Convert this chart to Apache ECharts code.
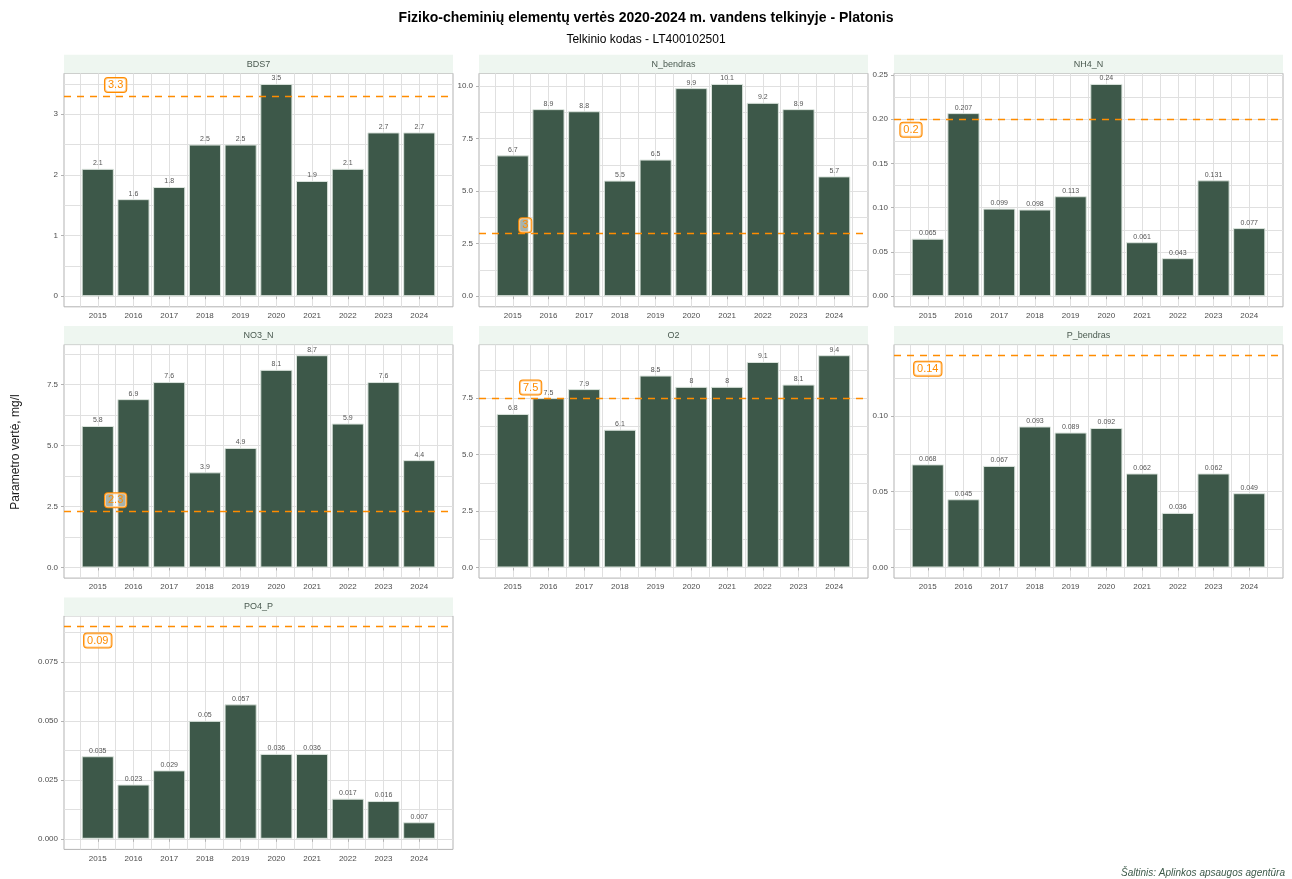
<!DOCTYPE html>
<html>
<head>
<meta charset="utf-8">
<title>Fiziko-cheminių elementų vertės - Platonis</title>
<script src="https://cdn.jsdelivr.net/npm/echarts@6/dist/echarts.min.js"></script>
<style>
  html, body { margin: 0; padding: 0; background: #fff; }
  #chart { width: 1292px; height: 879px; }
</style>
</head>
<body>
<div id="chart"></div>
<script>
const years = [2015, 2016, 2017, 2018, 2019, 2020, 2021, 2022, 2023, 2024]
const params = ['BDS7', 'N_bendras', 'NH4_N', 'NO3_N', 'O2', 'P_bendras', 'PO4_P']

const bds7 = [2.1, 1.6, 1.8, 2.5, 2.5, 3.5, 1.9, 2.1, 2.7, 2.7]
const nBendras = [6.7, 8.9, 8.8, 5.5, 6.5, 9.9, 10.1, 9.2, 8.9, 5.7]
const nh4N = [0.065, 0.207, 0.099, 0.098, 0.113, 0.24, 0.061, 0.043, 0.131, 0.077]
const no3N = [5.8, 6.9, 7.6, 3.9, 4.9, 8.1, 8.7, 5.9, 7.6, 4.4]
const o2 = [6.8, 7.5, 7.9, 6.1, 8.5, 8, 8, 9.1, 8.1, 9.4]
const pBendras = [0.068, 0.045, 0.067, 0.093, 0.089, 0.092, 0.062, 0.036, 0.062, 0.049]
const po4P = [0.035, 0.023, 0.029, 0.05, 0.057, 0.036, 0.036, 0.017, 0.016, 0.007]
const values = [bds7, nBendras, nh4N, no3N, o2, pBendras, po4P]

// limit values (orange dashed lines)
const thresholds = [3.3, 3, 0.2, 2.3, 7.5, 0.14, 0.09]

// y tick labels per panel
const yTicks = [
  [0, 1, 2, 3],
  [0, 2.5, 5, 7.5, 10],
  [0, 0.05, 0.1, 0.15, 0.2, 0.25],
  [0, 2.5, 5, 7.5],
  [0, 2.5, 5, 7.5],
  [0, 0.05, 0.1],
  [0, 0.025, 0.05, 0.075]
]
const yDecimals = [0, 1, 2, 1, 1, 2, 3]

// where the threshold tag sits: x in years, y shift in px from the line
const tagX = [2015.5, 2015.35, 2014.53, 2015.5, 2015.5, 2015, 2015]
const tagDy = [-11, -8, 10.5, -11, -10.5, 13.5, 14]

const FONT = '"Liberation Sans", Arial, sans-serif'
const BAR = '#3d5849'
const ORANGE = '#ff8c00'
const GRID = '#e0e0e0'
const BORDER = '#b3b3b3'
const PANEL_W = 389
const PANEL_H = 233.5
const STRIP_H = 18.5
const COL_X = [64, 479, 894]
const ROW_Y = [73.3, 344.6, 615.9]

// ggplot style ranges: bars are 0.9 wide, 5% padding
const xLo = years[0] - 0.45
const xHi = years[years.length - 1] + 0.45
const xMin = xLo - 0.05 * (xHi - xLo)
const xMax = xHi + 0.05 * (xHi - xLo)

// majors plus minor breaks half way between, inside [lo, hi]
function withMinor (ticks, lo, hi) {
  const step = ticks[1] - ticks[0]
  const out = []
  for (let v = ticks[0] - step / 2; v <= hi + 1e-9; v += step / 2) {
    if (v >= lo - 1e-9) out.push(+v.toFixed(6))
  }
  return out
}

const grids = []
const xAxes = []
const yAxes = []
const series = []
const graphics = []

params.forEach((name, i) => {
  const left = COL_X[i % 3]
  const top = ROW_Y[Math.floor(i / 3)]
  const hi = Math.max(...values[i], thresholds[i])
  const yMin = -0.05 * hi
  const yMax = hi * 1.05

  grids.push({
    left, top, width: PANEL_W, height: PANEL_H,
    show: true, borderColor: BORDER, borderWidth: 1,
    outerBoundsMode: 'none'
  })

  // axis pair 2i: grid lines only
  xAxes.push({
    type: 'value', gridIndex: i, position: 'bottom', min: xMin, max: xMax,
    axisLine: { show: false },
    axisTick: { show: false, customValues: withMinor(years, xMin, xMax) },
    axisLabel: { show: false },
    splitLine: { show: true, lineStyle: { color: GRID, width: 1 } }
  })
  yAxes.push({
    type: 'value', gridIndex: i, position: 'left', min: yMin, max: yMax,
    axisLine: { show: false },
    axisTick: { show: false, customValues: withMinor(yTicks[i], yMin, yMax) },
    axisLabel: { show: false },
    splitLine: { show: true, lineStyle: { color: GRID, width: 1 } }
  })
  // axis pair 2i+1: ticks and labels
  xAxes.push({
    type: 'value', gridIndex: i, position: 'bottom', offset: 0, min: xMin, max: xMax,
    axisLine: { show: false },
    axisTick: { show: true, length: 3, customValues: years, lineStyle: { color: BORDER } },
    axisLabel: {
      customValues: years, margin: 5, fontSize: 8, color: '#4d4d4d', fontFamily: FONT,
      formatter: v => String(v)
    },
    splitLine: { show: false }
  })
  yAxes.push({
    type: 'value', gridIndex: i, position: 'left', offset: 0, min: yMin, max: yMax,
    axisLine: { show: false },
    axisTick: { show: true, length: 3, customValues: yTicks[i], lineStyle: { color: BORDER } },
    axisLabel: {
      customValues: yTicks[i], margin: 6, fontSize: 8, color: '#4d4d4d', fontFamily: FONT,
      formatter: v => v.toFixed(yDecimals[i])
    },
    splitLine: { show: false }
  })

  series.push({
    name,
    type: 'bar',
    xAxisIndex: 2 * i + 1,
    yAxisIndex: 2 * i + 1,
    data: years.map((y, k) => [y, values[i][k]]),
    barWidth: PANEL_W / (xMax - xMin) * 0.9,
    itemStyle: { color: BAR, borderColor: '#dbe4dd', borderWidth: 1 },
    label: {
      show: true, position: 'top', distance: 2,
      fontSize: 7, color: '#555', fontFamily: FONT,
      formatter: p => String(p.value[1])
    },
    markLine: {
      silent: true, symbol: 'none', animation: false,
      label: { show: false },
      lineStyle: { color: ORANGE, type: [7, 6], width: 1.4, opacity: 1 },
      data: [{ yAxis: thresholds[i] }]
    },
    markPoint: {
      silent: true, animation: false,
      symbol: 'rect', symbolSize: 1,
      itemStyle: { color: 'rgba(0,0,0,0)' },
      label: {
        show: true, position: 'inside', offset: [0, tagDy[i]],
        fontSize: 11, color: ORANGE, fontFamily: FONT,
        backgroundColor: 'rgba(255,255,255,0.55)',
        borderColor: ORANGE, borderWidth: 1, borderRadius: 3,
        padding: [2, 3, 1, 3],
        formatter: () => String(thresholds[i])
      },
      data: [{ coord: [tagX[i], thresholds[i]] }]
    }
  })

  // facet strip
  graphics.push({
    type: 'rect', silent: true,
    shape: { x: left, y: top - STRIP_H, width: PANEL_W, height: STRIP_H },
    style: { fill: '#eef6f0' }
  })
  graphics.push({
    type: 'text', silent: true,
    x: left + PANEL_W / 2, y: top - STRIP_H / 2,
    style: {
      text: name, fill: '#4a5a50', fontSize: 9, fontFamily: FONT,
      align: 'center', verticalAlign: 'middle'
    }
  })
})

graphics.push({
  type: 'text', silent: true,
  x: 16, y: 452, rotation: Math.PI / 2,
  style: {
    text: 'Parametro vertė, mg/l', fill: '#1a1a1a', fontSize: 12, fontFamily: FONT,
    align: 'center', verticalAlign: 'middle'
  }
})
graphics.push({
  type: 'text', silent: true,
  x: 1285, y: 873,
  style: {
    text: 'Šaltinis: Aplinkos apsaugos agentūra', fill: '#3d5a4a',
    fontSize: 10, fontStyle: 'italic', fontFamily: FONT,
    align: 'right', verticalAlign: 'middle'
  }
})

const chart = echarts.init(document.getElementById('chart'), null, { renderer: 'canvas' })
chart.setOption({
  animation: false,
  backgroundColor: '#fff',
  title: [
    {
      text: 'Fiziko-cheminių elementų vertės 2020-2024 m. vandens telkinyje - Platonis',
      left: 'center', top: 6,
      textStyle: { fontSize: 14, fontWeight: 'bold', color: '#000', fontFamily: FONT }
    },
    {
      text: 'Telkinio kodas - LT400102501',
      left: 'center', top: 29,
      textStyle: { fontSize: 12, fontWeight: 'normal', color: '#000', fontFamily: FONT }
    }
  ],
  grid: grids,
  xAxis: xAxes,
  yAxis: yAxes,
  series,
  graphic: graphics
})
</script>
</body>
</html>
